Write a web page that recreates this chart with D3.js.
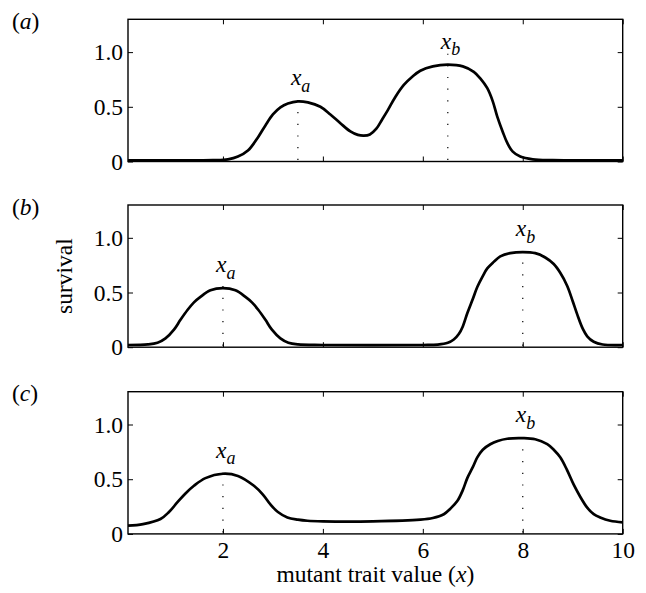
<!DOCTYPE html>
<html>
<head>
<meta charset="utf-8">
<script src="https://cdn.jsdelivr.net/npm/d3@7"></script>
<style>
  body { margin: 0; background: #fff; }
  text { font-family: "Liberation Serif", "Times New Roman", serif; fill: #000; }
</style>
</head>
<body>
<div id="chart"></div>
<script>
// survival curves, [x, survival]
var panelA = [[0.1,0.01],[1.0,0.01],[1.8,0.012],[2.1,0.02],[2.3,0.045],[2.5,0.10],[2.7,0.22],[2.85,0.33],
  [3.0,0.43],[3.15,0.495],[3.3,0.53],[3.5,0.55],[3.7,0.54],[3.95,0.50],[4.15,0.43],[4.35,0.35],[4.55,0.275],
  [4.7,0.243],[4.82,0.236],[4.94,0.247],[5.07,0.30],[5.18,0.38],[5.3,0.47],[5.45,0.59],[5.62,0.70],[5.8,0.78],
  [5.95,0.83],[6.2,0.87],[6.5,0.885],[6.8,0.87],[7.02,0.82],[7.15,0.76],[7.29,0.67],[7.4,0.55],[7.49,0.41],
  [7.6,0.27],[7.69,0.17],[7.8,0.09],[7.95,0.045],[8.2,0.02],[8.6,0.012],[10,0.01]];
var panelB = [[0.1,0.02],[0.5,0.025],[0.69,0.04],[0.85,0.08],[1.02,0.16],[1.15,0.25],[1.29,0.34],[1.42,0.41],
  [1.55,0.46],[1.75,0.52],[2.0,0.54],[2.25,0.52],[2.45,0.46],[2.58,0.41],[2.71,0.34],[2.85,0.25],[2.98,0.16],
  [3.15,0.08],[3.31,0.04],[3.5,0.025],[4.0,0.02],[6.0,0.02],[6.3,0.024],[6.5,0.04],[6.62,0.07],[6.72,0.12],
  [6.8,0.19],[6.89,0.31],[7.0,0.44],[7.09,0.55],[7.2,0.65],[7.29,0.72],[7.42,0.78],[7.55,0.83],[7.75,0.86],
  [8.0,0.87],[8.25,0.86],[8.45,0.82],[8.62,0.76],[8.75,0.68],[8.89,0.56],[9.0,0.42],[9.09,0.30],[9.2,0.17],
  [9.29,0.10],[9.42,0.05],[9.6,0.025],[10,0.02]];
var panelC = [[0.1,0.075],[0.4,0.09],[0.75,0.136],[0.92,0.20],[1.09,0.29],[1.25,0.37],[1.42,0.44],[1.65,0.51],
  [2.0,0.55],[2.3,0.53],[2.62,0.44],[2.8,0.36],[2.95,0.27],[3.1,0.20],[3.29,0.15],[3.5,0.13],[3.69,0.12],
  [4.0,0.115],[5.0,0.115],[5.95,0.13],[6.2,0.145],[6.42,0.18],[6.55,0.23],[6.69,0.30],[6.8,0.40],[6.89,0.51],
  [7.0,0.61],[7.09,0.70],[7.2,0.77],[7.35,0.82],[7.5,0.85],[7.69,0.87],[8.0,0.875],[8.25,0.865],[8.49,0.82],
  [8.62,0.77],[8.75,0.70],[8.88,0.59],[9.02,0.45],[9.15,0.34],[9.29,0.24],[9.42,0.18],[9.55,0.15],[9.75,0.12],
  [10,0.105]];

// marked trait values x_a, x_b and their peak survival
var peaksA = [{name: "a", x: 3.5, y: 0.55}, {name: "b", x: 6.5, y: 0.885}];
var peaksB = [{name: "a", x: 2, y: 0.54}, {name: "b", x: 8, y: 0.87}];
var peaksC = [{name: "a", x: 2, y: 0.55}, {name: "b", x: 8, y: 0.875}];

var panelLabels = ["a", "b", "c"];
var yTicks = [0, 0.5, 1.0];
var xTicks = [2, 4, 6, 8, 10];

var svgW = 646, svgH = 593;
var left = 128, right = 622.7;
var panelTops = [19.3, 205, 391.7];
var panelH = 142.2;
var fs = "23.5px";

var svg = d3.select("#chart").append("svg")
    .attr("width", svgW)
    .attr("height", svgH);

var x = d3.scaleLinear().domain([0.1, 10]).range([left, right]);

var panels = [
  {data: panelA, peaks: peaksA},
  {data: panelB, peaks: peaksB},
  {data: panelC, peaks: peaksC}
];

panels.forEach(function(p, i) {
    var top = panelTops[i], bottom = top + panelH;
    var y = d3.scaleLinear().domain([0, 1.3]).range([bottom, top]);
    var g = svg.append("g");

    // ticks on all four sides, pointing inward
    var yl = g.append("g").attr("transform", "translate(" + left + ",0)")
        .call(d3.axisLeft(y).tickValues(yTicks).tickSize(-5).tickPadding(5)
            .tickFormat(function(d) { return d == 0 ? "0" : d3.format(".1f")(d); }));
    var yr = g.append("g").attr("transform", "translate(" + right + ",0)")
        .call(d3.axisRight(y).tickValues(yTicks).tickSize(-5).tickFormat(""));
    var xt = g.append("g").attr("transform", "translate(0," + top + ")")
        .call(d3.axisTop(x).tickValues(xTicks).tickSize(-5).tickFormat(""));
    var xb = g.append("g").attr("transform", "translate(0," + bottom + ")")
        .call(d3.axisBottom(x).tickValues(xTicks).tickSize(-5).tickPadding(7.5));
    if (i < 2) xb.selectAll("text").remove();

    [yl, yr, xt, xb].forEach(function(a) {
        a.select(".domain").remove();
        a.selectAll(".tick line").attr("stroke", "#000").attr("stroke-width", 1);
        a.selectAll("text").style("font-family", "Liberation Serif").style("font-size", fs).attr("fill", "#000");
    });

    g.append("rect")
        .attr("x", left).attr("y", top)
        .attr("width", right - left).attr("height", panelH)
        .attr("fill", "none").attr("stroke", "#000").attr("stroke-width", 1.4);

    // dotted markers
    g.selectAll(".marker").data(p.peaks).enter().append("line")
        .attr("x1", function(d) { return x(d.x); })
        .attr("x2", function(d) { return x(d.x); })
        .attr("y1", bottom - 1.5)
        .attr("y2", function(d) { return y(d.y + 0.1); })
        .attr("stroke", "#000").attr("stroke-width", 1.2)
        .attr("stroke-dasharray", "1.2,10.5");

    var line = d3.line()
        .x(function(d) { return x(d[0]); })
        .y(function(d) { return y(d[1]); })
        .curve(d3.curveCatmullRom.alpha(0.5));

    g.append("path").datum(p.data)
        .attr("d", line)
        .attr("fill", "none").attr("stroke", "#000").attr("stroke-width", 2.7);

    var lab = g.selectAll(".peaklabel").data(p.peaks).enter().append("text")
        .attr("x", function(d) { return x(d.x) - 7; })
        .attr("y", function(d) { return y(d.y) - 16; })
        .style("font-size", fs);
    lab.append("tspan").style("font-style", "italic").text("x");
    lab.append("tspan").style("font-style", "italic").style("font-size", "18px")
        .attr("dy", 6.5).text(function(d) { return d.name; });

    var pl = svg.append("text").attr("x", 12).attr("y", top + 9.5).style("font-size", fs);
    pl.append("tspan").text("(");
    pl.append("tspan").style("font-style", "italic").text(panelLabels[i]);
    pl.append("tspan").text(")");
});

svg.append("text")
    .attr("transform", "translate(71.5," + (panelTops[1] + panelH / 2) + ") rotate(-90)")
    .attr("text-anchor", "middle")
    .style("font-size", fs)
    .text("survival");

var xl = svg.append("text")
    .attr("x", (left + right) / 2).attr("y", 582)
    .attr("text-anchor", "middle")
    .style("font-size", fs);
xl.append("tspan").text("mutant trait value (");
xl.append("tspan").style("font-style", "italic").text("x");
xl.append("tspan").text(")");
</script>
</body>
</html>
